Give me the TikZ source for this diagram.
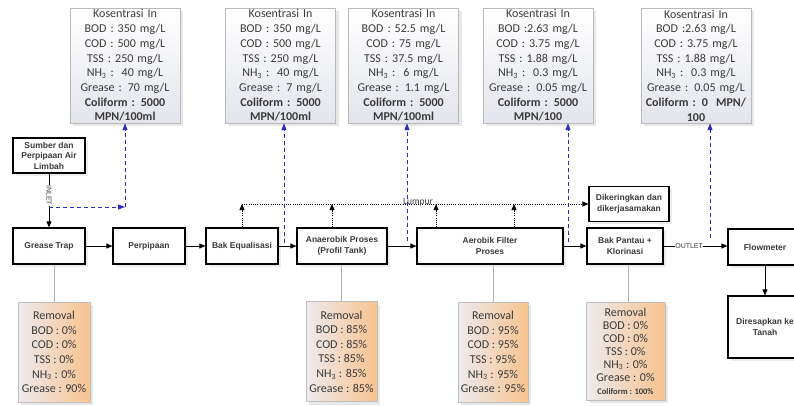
\documentclass[tikz,border=0pt]{standalone}
\usepackage{fontspec}
\setmainfont{Carlito}
\newfontfamily\boxfont{Liberation Sans}
\usetikzlibrary{arrows.meta,positioning,shadows}

\definecolor{txtgray}{HTML}{3A3A3A}
\definecolor{kfill}{HTML}{E3E5EC}
\definecolor{rleft}{HTML}{EDEAEE}
\definecolor{rright}{HTML}{F8C38F}
\definecolor{dashblue}{HTML}{2A2AC4}

\begin{document}
\begin{tikzpicture}[x=1pt, y=-1pt,
  box/.style={draw, line width=1.2pt, fill=white, minimum width=72pt, minimum height=36pt, align=center, inner sep=1pt, text=txtgray, font=\boxfont\bfseries\fontsize{8.5}{10.5}\selectfont, drop shadow={shadow xshift=2.5pt, shadow yshift=-2.5pt, fill=gray!30}},
  kbox/.style={draw=gray!55, top color=white, bottom color=kfill, minimum width=110pt, minimum height=115pt, text width=108pt, align=center, inner sep=1pt, text=txtgray, font=\fontsize{12}{14.7}\selectfont, drop shadow={shadow xshift=3pt, shadow yshift=-3pt, fill=gray!35}},
  rbox/.style={draw=gray!50, left color=rleft, right color=rright, minimum height=100pt, align=center, inner sep=1pt, text=txtgray, font=\fontsize{12}{14.6}\selectfont, drop shadow={shadow xshift=3pt, shadow yshift=-3pt, fill=gray!35}},
  arrow/.style={-{Triangle[length=6pt, width=5pt]}, line width=0.9pt},
  sample/.style={dash pattern=on 4pt off 3pt, draw=dashblue, line width=0.9pt, -{Triangle[length=7pt, width=5pt]}, dashblue},
  lumpur/.style={dash pattern=on 1pt off 1.2pt, line width=1pt, -{Triangle[length=6pt, width=5pt]}},
  feed/.style={draw=gray!60, line width=0.8pt},
  tag/.style={fill=white, inner sep=0.5pt, text=txtgray, font=\boxfont\fontsize{7}{8}\selectfont}
]
\useasboundingbox (0,0) rectangle (794,405);

\node[kbox] (k1) at (125,65.5) {Kosentrasi In\\BOD : 350 mg/L\\COD : 500 mg/L\\TSS : 250 mg/L\\NH\textsubscript{3} :~~40 mg/L\\Grease : 70 mg/L\\\textbf{Coliform : 5000}\\\textbf{MPN/100ml}};
\node[kbox] (k2) at (280.5,65.5) {Kosentrasi In\\BOD : 350 mg/L\\COD : 500 mg/L\\TSS : 250 mg/L\\NH\textsubscript{3} :~~40 mg/L\\Grease : 7 mg/L\\\textbf{Coliform : 5000}\\\textbf{MPN/100ml}};
\node[kbox] (k3) at (403.5,65.5) {Kosentrasi In\\BOD : 52.5 mg/L\\COD : 75 mg/L\\TSS : 37.5 mg/L\\NH\textsubscript{3} :~~6 mg/L\\Grease : 1.1 mg/L\\\textbf{Coliform : 5000}\\\textbf{MPN/100ml}};
\node[kbox] (k4) at (538,65.5) {Kosentrasi In\\BOD :2.63 mg/L\\COD : 3.75 mg/L\\TSS : 1.88 mg/L\\NH\textsubscript{3} :~~0.3 mg/L\\Grease : 0.05 mg/L\\\textbf{Coliform : 5000}\\\textbf{MPN/100}};
\node[kbox] (k5) at (696,65.5) {Kosentrasi In\\BOD :2.63 mg/L\\COD : 3.75 mg/L\\TSS : 1.88 mg/L\\NH\textsubscript{3} :~~0.3 mg/L\\Grease : 0.05 mg/L\\\textbf{Coliform : 0~~MPN/}\\\textbf{100}};

\node[box, minimum height=35pt] (sumber) at (49,155.5) {Sumber dan\\Perpipaan Air\\Limbah};
\node[box] (grease) at (49,246) {Grease Trap};
\node[box] (pipa) at (149,246) {Perpipaan};
\node[box] (equal) at (242,246) {Bak Equalisasi};
\node[box, minimum width=90pt] (anaer) at (342,246) {Anaerobik Proses\\(Profil Tank)};
\node[box, minimum width=146pt] (aerob) at (490,246) {Aerobik Filter\\Proses};
\node[box, minimum width=76pt] (pantau) at (625,246) {Bak Pantau +\\Klorinasi};
\node[box, minimum width=80pt, minimum height=35pt] (kering) at (629,204) {Dikeringkan dan\\dikerjasamakan};
\node[box, minimum width=74pt] (flow) at (765,247) {Flowmeter};
\node[box, minimum width=74pt, minimum height=62pt] (resap) at (765,327) {Diresapkan ke\\Tanah};

\node[rbox, minimum width=72pt] (r1) at (54,352) {Removal\\BOD : 0\%\\COD : 0\%\\TSS : 0\%\\NH\textsubscript{3} : 0\%\\Grease : 90\%};
\node[rbox, minimum width=71pt] (r2) at (341.5,351.5) {Removal\\BOD : 85\%\\COD : 85\%\\TSS : 85\%\\NH\textsubscript{3} : 85\%\\Grease : 85\%};
\node[rbox, minimum width=70pt] (r3) at (493,352) {Removal\\BOD : 95\%\\COD : 95\%\\TSS : 95\%\\NH\textsubscript{3} : 95\%\\Grease : 95\%};
\node[rbox, minimum width=79pt, minimum height=98pt, font=\fontsize{12}{13}\selectfont] (r4) at (625.5,351) {Removal\\BOD : 0\%\\COD : 0\%\\TSS : 0\%\\NH\textsubscript{3} : 0\%\\Grease : 0\%\\\textbf{\fontsize{8.5}{10}\selectfont Coliform : 100\%}};

\coordinate (in0) at (49,207);
\coordinate (in1) at (125,207);
\coordinate (s2) at (284,243);
\coordinate (s3) at (407,241);
\coordinate (s4) at (568,242);
\coordinate (s5) at (710,238);
\coordinate (lp) at (0,204);

\draw[arrow] (sumber) -- (grease) node[tag, pos=0.4, rotate=-90] {INLET};
\draw[arrow] (grease) -- (pipa);
\draw[arrow] (pipa) -- (equal);
\draw[arrow] (equal) -- (anaer);
\draw[arrow] (anaer) -- (aerob);
\draw[arrow] (aerob) -- (pantau);
\draw[arrow] (pantau.east) -- (pantau.east -| flow.west) node[tag, pos=0.4] {OUTLET};
\draw[arrow] (flow) -- (resap);

\draw[lumpur] (equal.north) -- (equal.north |- lp);
\draw[lumpur] ([xshift=-10pt]anaer.north) -- ([xshift=-10pt]anaer.north |- lp);
\draw[lumpur] ([xshift=-54pt]aerob.north) -- ([xshift=-54pt]aerob.north |- lp);
\draw[lumpur] ([xshift=24pt]aerob.north) -- ([xshift=24pt]aerob.north |- lp);
\draw[lumpur] (equal.north |- lp) -- (kering.west);
\node[text=txtgray, font=\fontsize{9.5}{10}\selectfont] (lumpurlbl) at (418,202) {Lumpur};

\draw[sample] (in0) -- (in1);
\draw[sample] (in1) -- (in1 |- k1.south);
\draw[sample] (s2) -- (s2 |- k2.south);
\draw[sample] (s3) -- (s3 |- k3.south);
\draw[sample] (s4) -- (s4 |- k4.south);
\draw[sample] (s5) -- (s5 |- k5.south);

\draw[feed] (r1.north) -- (r1.north |- grease.south);
\draw[feed] (r2.north) -- (r2.north |- anaer.south);
\draw[feed] (r3.north) -- (r3.north |- aerob.south);
\draw[feed] ([xshift=3pt]r4.north) -- ([xshift=3pt]r4.north |- pantau.south);
\end{tikzpicture}
\end{document}
